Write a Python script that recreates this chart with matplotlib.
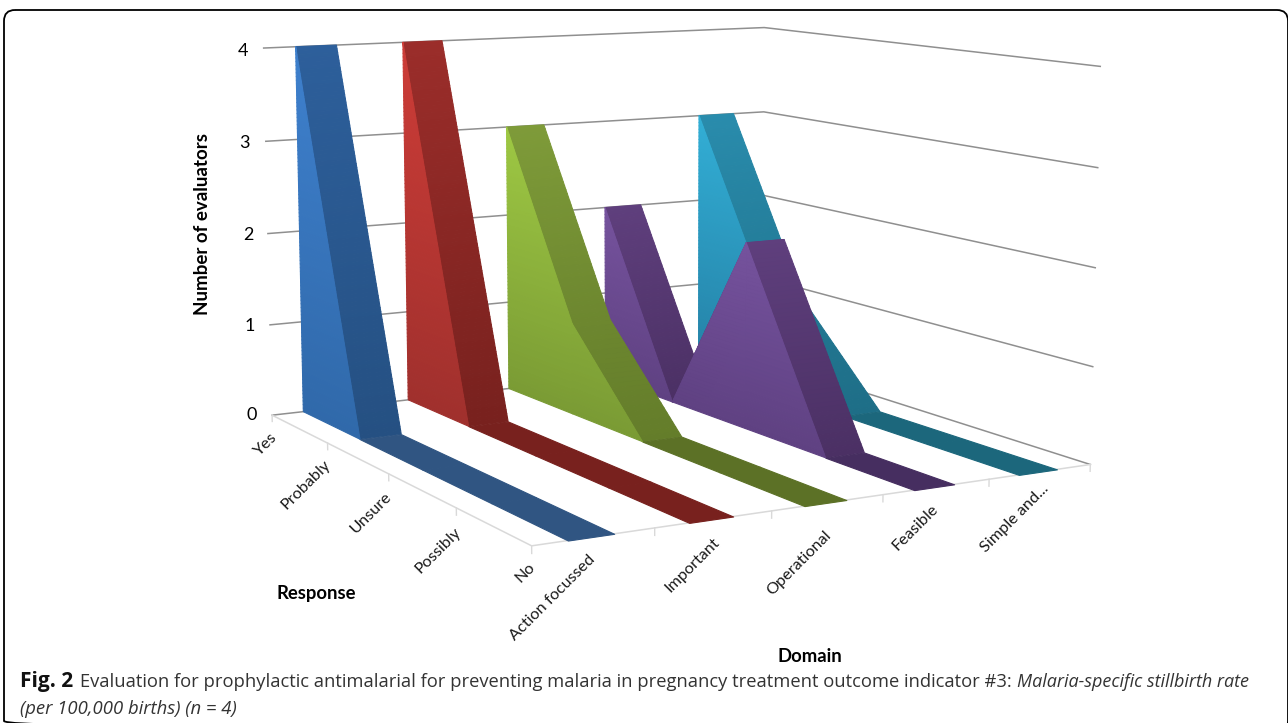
import numpy as np
import matplotlib
matplotlib.use("Agg")
import matplotlib.pyplot as plt
from matplotlib.patches import FancyBboxPatch
from matplotlib.transforms import Affine2D
from mpl_toolkits.mplot3d.art3d import Poly3DCollection

W, H = 1288, 723

# Data
responses = ["Yes", "Probably", "Unsure", "Possibly", "No"]
domains = ["Action focussed", "Important", "Operational", "Feasible", "Simple and..."]
action_focussed = [4, 0, 0, 0, 0]
important = [4, 0, 0, 0, 0]
operational = [3, 1, 0, 0, 0]
feasible = [2, 0, 2, 0, 0]
simple_and = [3, 1, 0, 0, 0]
levels = [0, 1, 2, 3, 4]

series = [action_focussed, important, operational, feasible, simple_and]

# colours: face at z=0 / z=4, strip at z=0 / z=4, floor strip
colours = [
    ((48, 105, 170), (62, 128, 205), (37, 80, 130), (45, 95, 155), (48, 85, 130)),
    ((160, 48, 45), (205, 60, 55), (120, 33, 30), (155, 45, 42), (120, 33, 30)),
    ((122, 155, 52), (170, 215, 72), (100, 125, 42), (135, 165, 62), (92, 113, 38)),
    ((95, 65, 130), (140, 100, 185), (75, 48, 100), (115, 78, 150), (70, 46, 96)),
    ((36, 128, 165), (55, 190, 230), (30, 110, 135), (45, 150, 185), (28, 103, 124)),
]
left_edge = 0.29
ribbon_width = 0.375
band = 0.04


def mix(c0, c1, z):
    a = np.array(c0) / 255
    b = np.array(c1) / 255
    return tuple(a + (b - a) * z / 4)


def clip_band(poly, z0, z1):
    # keep the part of a convex (r, z) polygon between two heights
    out = poly
    for lim, sign in ((z0, 1), (z1, -1)):
        new = []
        for i in range(len(out)):
            p, q = out[i], out[(i + 1) % len(out)]
            dp, dq = sign * (p[1] - lim), sign * (q[1] - lim)
            if dp >= 0:
                new.append(p)
            if dp * dq < 0:
                t = dp / (dp - dq)
                new.append((p[0] + t * (q[0] - p[0]), p[1] + t * (q[1] - p[1])))
        out = new
        if len(out) < 3:
            return []
    return out


def add_polys(ax, verts, cols, zorder):
    pc = Poly3DCollection(verts, facecolors=cols, edgecolors=cols, linewidths=0.8, zorder=zorder)
    ax.add_collection3d(pc)


def px(x, y):
    return x / W, 1 - y / H


fig = plt.figure(figsize=(W / 100, H / 100), dpi=100)
ax = fig.add_axes([0.15248, 0.00697, 0.70765, 1.2606], projection='3d', computed_zorder=False)
ax.set_xlim(0, 5)
ax.set_ylim(4, 0)
ax.set_zlim(0, 4)
ax.view_init(8.781, -119.703)
ax.set_proj_type('persp', focal_length=0.5410)
ax.set_box_aspect((1, 0.9947, 0.6371))
ax.set_axis_off()
ax.patch.set_alpha(0)

# gridlines on the two walls
for z in levels:
    ax.plot([0, 5, 5], [0, 0, 4], [z, z, z], color='#8f8f8f', lw=1.1, zorder=1)

# floor edges and ticks
ax.plot([0, 0, 5], [0, 4, 4], [0, 0, 0], color='#d9d9d9', lw=1.1, zorder=2)
for r in range(len(responses)):
    ax.plot([0, 0], [r, r], [0, -0.07], color='#d9d9d9', lw=1, zorder=2)
for d in range(1, len(domains) + 1):
    ax.plot([d, d], [4, 4], [0, -0.07], color='#d9d9d9', lw=1, zorder=2)

# ribbons, furthest series first
for i in range(len(series) - 1, -1, -1):
    vals = series[i]
    face0, face4, strip0, strip4, floor = colours[i]
    u0 = i + left_edge
    u1 = u0 + ribbon_width
    base = 10 * (5 - i)
    heights = np.arange(0, 4, band)
    face_verts, face_cols = [], []
    for k in range(len(vals) - 1):
        v0, v1 = vals[k], vals[k + 1]
        # top strip of the ribbon
        if v0 == v1:
            verts = [[(u0, k, v0), (u1, k, v0), (u1, k + 1, v1), (u0, k + 1, v1)]]
            cols = [tuple(np.array(floor) / 255)]
        else:
            n = int(abs(v0 - v1) / band)
            ts = np.linspace(0, 1, n + 1)
            verts, cols = [], []
            for a, b in zip(ts[:-1], ts[1:]):
                za, zb = v0 + a * (v1 - v0), v0 + b * (v1 - v0)
                verts.append([(u0, k + a, za), (u1, k + a, za), (u1, k + b, zb), (u0, k + b, zb)])
                cols.append(mix(strip0, strip4, (za + zb) / 2))
        add_polys(ax, verts, cols, base + k)
        # side face under the line, nothing to draw where the line lies on the floor
        if v0 == 0 and v1 == 0:
            continue
        trap = [(k, 0), (k + 1, 0), (k + 1, v1), (k, v0)]
        for z in heights:
            part = clip_band(trap, z, z + band)
            if part:
                face_verts.append([(u0, r, h) for r, h in part])
                face_cols.append(mix(face0, face4, z + band / 2))
    add_polys(ax, face_verts, face_cols, base + 6)

# tick labels
chart_font = 'Lato'
for z, (x, y) in zip(levels, [(252, 415), (250, 326), (248, 235), (244, 143), (243, 51)]):
    fig.text(*px(x, y), str(z), ha='center', va='center', fontsize=13, family=chart_font, color='black')
resp_pos = [(265, 445), (306, 485), (371, 513), (438, 550), (525, 573)]
for lab, (x, y) in zip(responses, resp_pos):
    fig.text(*px(x, y), lab, rotation=45, rotation_mode='anchor', ha='center', va='center',
             fontsize=11.7, family=chart_font, color='#1a1a1a')
dom_pos = [(553, 598), (693, 565), (799, 563), (915, 527), (1015, 518)]
for lab, (x, y) in zip(domains, dom_pos):
    fig.text(*px(x, y), lab, rotation=45, rotation_mode='anchor', ha='center', va='center',
             fontsize=11.7, family=chart_font, color='#1a1a1a')

# axis titles
fig.text(*px(203, 224), "Number of evaluators", rotation=90, ha='center', va='center',
         fontsize=13.5, fontweight='bold', family=chart_font)
fig.text(*px(316, 594), "Response", ha='center', va='center', fontsize=13.3, fontweight='bold', family=chart_font)
fig.text(*px(810, 657), "Domain", ha='center', va='center', fontsize=13.3, fontweight='bold', family=chart_font)

# caption
cap = dict(family='Open Sans', va='baseline')
fig.text(*px(20, 687), "Fig. 2", fontweight='bold', fontsize=15, color='#111111', **cap)
fig.text(*px(80, 687), "Evaluation for prophylactic antimalarial for preventing malaria in pregnancy treatment outcome indicator #3:",
         fontsize=13.25, color='#333333', **cap)
fig.text(*px(1017, 687), "Malaria-specific stillbirth rate", style='italic', fontsize=13, color='#333333', **cap)
fig.text(*px(20, 714), "(per 100,000 births) (n = 4)", style='italic', fontsize=13.3, color='#333333', **cap)

# rounded frame, cut by the right and bottom of the image
to_px = Affine2D().scale(1, -1).translate(0, H)
frame = FancyBboxPatch((4, 10), 1284, 722, boxstyle="round,pad=0,rounding_size=11",
                       fill=False, edgecolor='black', lw=1.3, transform=to_px, zorder=100)
fig.add_artist(frame)

fig.savefig("out.png", dpi=100)
